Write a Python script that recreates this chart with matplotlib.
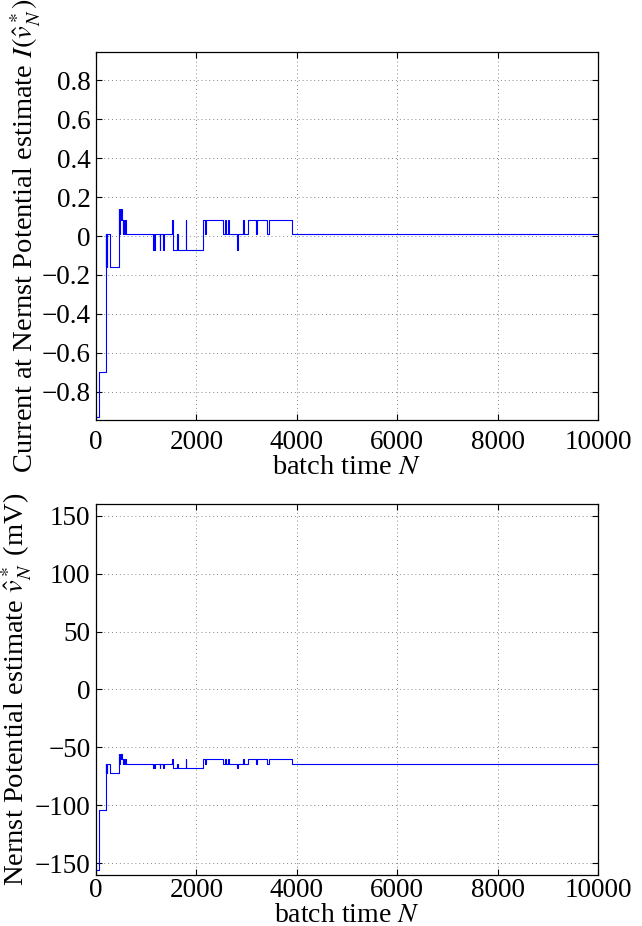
import numpy as np
import matplotlib
matplotlib.use('Agg')
import matplotlib.pyplot as plt

plt.rcParams['font.family'] = ['Liberation Serif', 'DejaVu Serif']
plt.rcParams['mathtext.fontset'] = 'stix'

# change points of the estimate (batch time N) and the level held from each one
change_N = [0, 66, 195, 200, 205, 210, 215, 285, 452, 465, 475, 485, 500, 518, 530,
            545, 560, 575, 598, 1135, 1150, 1160, 1182, 1268, 1280, 1335, 1345,
            1514, 1527, 1620, 1630, 1786, 1800, 2130, 2175, 2185, 2524, 2576, 2590,
            2630, 2640, 2815, 2825, 2935, 2955, 3034, 3187, 3200, 3400, 3446, 3898,
            10000]
current = [-0.93, -0.70, 0.013, -0.158, 0.013, -0.158, 0.013, -0.158, 0.14, 0.013,
           0.14, 0.08, 0.14, 0.08, 0.013, 0.08, 0.013, 0.08, 0.013, -0.07, 0.013,
           -0.07, 0.013, -0.07, 0.013, -0.07, 0.013, 0.08, -0.07, 0.013, -0.07,
           0.08, -0.07, 0.08, 0.013, 0.08, 0.013, 0.08, 0.013, 0.08, 0.013, -0.07,
           0.013, 0.08, 0.013, 0.08, 0.013, 0.08, 0.013, 0.08, 0.013, 0.013]
potential = [-156, -104, -64, -72, -64, -72, -64, -72, -56, -64, -56, -60, -56, -60,
             -64, -60, -64, -60, -64, -68, -64, -68, -64, -68, -64, -68, -64, -60,
             -68, -64, -68, -60, -68, -60, -64, -60, -64, -60, -64, -60, -64, -68,
             -64, -60, -64, -60, -64, -60, -64, -60, -64, -64]

x_ticks = [0, 2000, 4000, 6000, 8000, 10000]
top_yticks = [-0.8, -0.6, -0.4, -0.2, 0, 0.2, 0.4, 0.6, 0.8]
top_ylabels = ['\u22120.8', '\u22120.6', '\u22120.4', '\u22120.2', '0', '0.2', '0.4', '0.6', '0.8']
bot_yticks = [-150, -100, -50, 0, 50, 100, 150]
bot_ylabels = ['\u2212150', '\u2212100', '\u221250', '0', '50', '100', '150']

fig = plt.figure(figsize=(6.42, 9.26), dpi=100)
ax1 = fig.add_axes([0.1495, 0.5464, 0.782, 0.3974])
ax2 = fig.add_axes([0.1495, 0.0551, 0.782, 0.4006])

tfs = 19.5
lfs = 20.5
for ax, y, ylim, yt, yl, lab, tpad, xpad, xfs, ylx in [
        (ax1, current, (-0.945, 0.945), top_yticks, top_ylabels,
         r'Current at Nernst Potential estimate $I(\hat{v}_N^*)$', 7, 0, lfs, -0.106),
        (ax2, potential, (-160, 160), bot_yticks, bot_ylabels,
         r'Nernst Potential estimate $\hat{v}_N^*$ (mV)', 2, 0, 20, -0.124)]:
    ax.step(change_N, y, where='post', color='#0000ff', lw=0.8)
    ax.set_xlim(0, 10000)
    ax.set_ylim(*ylim)
    ax.set_xticks(x_ticks)
    ax.set_xticklabels([str(t) for t in x_ticks])
    ax.set_yticks(yt)
    ax.set_yticklabels(yl)
    ax.tick_params(direction='in', top=True, right=True, labelsize=tfs,
                   length=4, width=0.8)
    ax.tick_params(axis='x', pad=tpad)
    ax.tick_params(axis='y', pad=4)
    ax.grid(True, linestyle=(0, (1, 3)), color='#888888', lw=0.7)
    ax.set_xlabel(r'batch time $N$', fontsize=xfs, labelpad=xpad)
    ax.set_ylabel(lab, fontsize=lfs)
    ax.yaxis.set_label_coords(ylx, 0.5)
    for s in ax.spines.values():
        s.set_linewidth(0.9)

plt.savefig('out.png', dpi=100)
